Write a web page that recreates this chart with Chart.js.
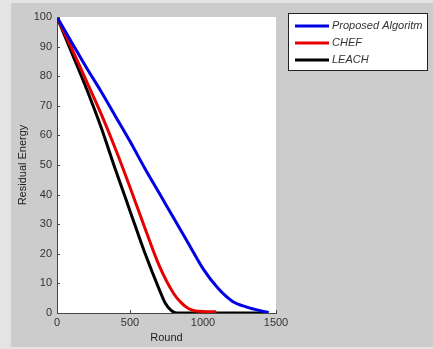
<!DOCTYPE html>
<html>
<head>
<meta charset="utf-8">
<script src="https://cdn.jsdelivr.net/npm/chart.js@4.4.1/dist/chart.umd.min.js"></script>
<style>
  html, body { margin: 0; padding: 0; background: #e4e4e4; }
  #wrap { position: relative; width: 433px; height: 349px; }
</style>
</head>
<body>
<div id="wrap"><canvas id="energyChart" width="433" height="349"></canvas></div>
<script>
const seriesLabels = ['Proposed Algoritm', 'CHEF', 'LEACH'];
const seriesColors = ['#0000e6', '#e60000', '#000000'];

const proposedRounds = [0, 100, 200, 300, 400, 500, 600, 700, 800, 900, 1000, 1100, 1200, 1300, 1400, 1450];
const proposedEnergy = [100, 91.5, 83, 75, 66.5, 58, 49, 40.5, 32, 23.5, 15, 8.5, 4, 2, 0.7, 0.2];

const chefRounds = [0, 100, 200, 300, 400, 500, 600, 700, 800, 850, 900, 950, 1000, 1090];
const chefEnergy = [100, 89.5, 78.5, 67.5, 55.5, 42.5, 29, 16, 6.5, 3.5, 1.5, 0.7, 0.5, 0.4];

const leachRounds = [0, 100, 200, 300, 400, 500, 600, 700, 740, 780, 820, 1440];
const leachEnergy = [100, 88, 76, 63, 48.5, 34.5, 20.5, 8, 3.5, 1, 0, 0];

const xTicks = [0, 500, 1000, 1500];
const yTicks = [0, 10, 20, 30, 40, 50, 60, 70, 80, 90, 100];

function toPoints(xs, ys) {
    return xs.map((x, i) => ({ x: x, y: ys[i] }));
}

// figure background (matlab grey) behind everything
const figureBg = {
    id: 'figureBg',
    beforeDraw(chart) {
        const ctx = chart.ctx;
        const a = chart.chartArea;
        ctx.save();
        ctx.fillStyle = '#e4e4e4';
        ctx.fillRect(0, 0, chart.width, chart.height);
        ctx.fillStyle = '#cccccc';
        ctx.fillRect(11, 3, chart.width - 11, chart.height - 5);
        ctx.fillStyle = '#ffffff';
        ctx.fillRect(a.left, a.top, a.right - a.left, a.bottom - a.top);
        ctx.restore();
    }
};

// inward tick marks like matlab
const innerTicks = {
    id: 'innerTicks',
    afterDraw(chart) {
        const ctx = chart.ctx;
        const xs = chart.scales.x, ys = chart.scales.y;
        const a = chart.chartArea;
        ctx.save();
        ctx.strokeStyle = '#444';
        ctx.lineWidth = 1;
        ctx.beginPath();
        yTicks.forEach(v => {
            const py = Math.round(ys.getPixelForValue(v)) + 0.5;
            ctx.moveTo(a.left, py);
            ctx.lineTo(a.left + 3, py);
        });
        xTicks.forEach(v => {
            const px = Math.round(xs.getPixelForValue(v)) + 0.5;
            ctx.moveTo(px, a.bottom);
            ctx.lineTo(px, a.bottom - 3);
        });
        ctx.stroke();
        ctx.restore();
    }
};

// legend box drawn from the datasets
const boxLegend = {
    id: 'boxLegend',
    afterDraw(chart) {
        const ctx = chart.ctx;
        ctx.save();
        ctx.fillStyle = '#ffffff';
        ctx.fillRect(288, 13, 139, 57);
        ctx.strokeStyle = '#222';
        ctx.lineWidth = 1;
        ctx.strokeRect(288.5, 13.5, 139, 57);
        ctx.font = 'italic 11px "Liberation Sans", Arial, sans-serif';
        ctx.textBaseline = 'middle';
        chart.data.datasets.forEach((ds, i) => {
            const y = 26 + i * 17;
            ctx.strokeStyle = ds.borderColor;
            ctx.lineWidth = 3;
            ctx.beginPath();
            ctx.moveTo(295, y);
            ctx.lineTo(329, y);
            ctx.stroke();
            ctx.fillStyle = '#333';
            ctx.fillText(ds.label, 332, y);
        });
        ctx.restore();
    }
};

const tickFont = { family: '"Liberation Sans", Arial, sans-serif', size: 11 };

new Chart(document.getElementById('energyChart').getContext('2d'), {
    type: 'line',
    data: {
        datasets: [
            { label: seriesLabels[0], data: toPoints(proposedRounds, proposedEnergy), borderColor: seriesColors[0] },
            { label: seriesLabels[1], data: toPoints(chefRounds, chefEnergy), borderColor: seriesColors[1] },
            { label: seriesLabels[2], data: toPoints(leachRounds, leachEnergy), borderColor: seriesColors[2] }
        ].map(ds => Object.assign(ds, {
            borderWidth: 3,
            pointRadius: 0,
            fill: false,
            cubicInterpolationMode: 'monotone'
        }))
    },
    options: {
        responsive: false,
        animation: false,
        devicePixelRatio: 1,
        layout: { padding: { left: 0, top: 17, right: 157, bottom: 0 } },
        plugins: { legend: { display: false }, tooltip: { enabled: false } },
        scales: {
            x: {
                type: 'linear',
                min: 0,
                max: 1500,
                afterFit: s => { s.height = 36; },
                afterBuildTicks: s => { s.ticks = xTicks.map(v => ({ value: v })); },
                grid: { display: false, drawTicks: false },
                border: { display: true, color: '#444', width: 1 },
                ticks: { padding: 3, color: '#333', maxRotation: 0, font: tickFont, callback: v => String(v) },
                title: { display: true, text: 'Round', color: '#222', padding: { top: 1, bottom: 4 }, font: tickFont }
            },
            y: {
                min: 0,
                max: 100,
                afterFit: s => { s.width = 57; },
                afterBuildTicks: s => { s.ticks = yTicks.map(v => ({ value: v })); },
                grid: { display: false, drawTicks: false },
                border: { display: true, color: '#444', width: 1 },
                ticks: { padding: 5, color: '#333', font: tickFont, callback: v => String(v) },
                title: { display: true, text: 'Residual Energy', color: '#222', padding: { top: 16, bottom: 0 }, font: tickFont }
            }
        }
    },
    plugins: [figureBg, innerTicks, boxLegend]
});
</script>
</body>
</html>
